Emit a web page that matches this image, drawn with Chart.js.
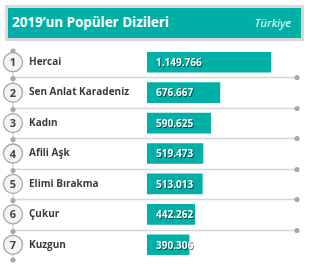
<!DOCTYPE html>
<html>
<head>
<meta charset="utf-8">
<script src="https://cdn.jsdelivr.net/npm/chart.js@4"></script>
<style>
  html, body { margin: 0; padding: 0; background: #fff; }
  body { width: 310px; height: 275px; position: relative; overflow: hidden; font-family: "Open Sans", sans-serif; }
  .header {
    position: absolute; left: 5px; top: 5px; width: 293px; height: 30px;
    border: 3px solid #d9d9d9; background: #00afa5; color: #fff;
  }
  .header .title { position: absolute; left: 4px; top: 5px; font-size: 13.4px; font-weight: 700; }
  .header .place { position: absolute; right: 10px; top: 7px; font-size: 11.5px; font-style: italic; }
  #chart { position: absolute; left: 0; top: 0; }
</style>
</head>
<body>
<div class="header">
  <span class="title">2019’un Popüler Dizileri</span>
  <span class="place">Türkiye</span>
</div>
<canvas id="chart" width="310" height="275"></canvas>
<script>
// 2019 most watched series, Turkey
const series = ['Hercai', 'Sen Anlat Karadeniz', 'Kadın', 'Afili Aşk', 'Elimi Bırakma', 'Çukur', 'Kuzgun'];
const viewers = [1149766, 676667, 590625, 519473, 513013, 442262, 390306];
const ranks = ['1', '2', '3', '4', '5', '6', '7'];

const teal = '#00afa5';
const lineGrey = '#d6d6d6';
const dotGrey = '#a9a9a9';

const fmt = (n) => String(n).replace(/\B(?=(\d{3})+(?!\d))/g, '.');

const rankList = {
    id: 'rankList',
    beforeDatasetsDraw(chart) {
        const { ctx, chartArea, scales: { y } } = chart;
        const half = (y.getPixelForValue(1) - y.getPixelForValue(0)) / 2;
        const lx = 13, rx = 297;
        ctx.save();
        // vertical spine
        ctx.strokeStyle = lineGrey;
        ctx.lineWidth = 1.5;
        ctx.beginPath();
        ctx.moveTo(lx, chartArea.top + 3);
        ctx.lineTo(lx, chartArea.bottom);
        ctx.stroke();
        // separators between rows
        for (let i = 0; i < series.length - 1; i++) {
            const yy = Math.round(y.getPixelForValue(i) + half) + 0.5;
            ctx.beginPath();
            ctx.moveTo(lx, yy);
            ctx.lineTo(rx, yy);
            ctx.stroke();
            ctx.fillStyle = dotGrey;
            ctx.beginPath(); ctx.arc(rx, yy, 2.6, 0, Math.PI * 2); ctx.fill();
            ctx.beginPath(); ctx.arc(lx, yy + 1, 2.6, 0, Math.PI * 2); ctx.fill();
        }
        ctx.fillStyle = dotGrey;
        ctx.beginPath(); ctx.arc(lx, chartArea.top + 4, 2.6, 0, Math.PI * 2); ctx.fill();
        ctx.beginPath(); ctx.arc(lx, chartArea.bottom, 2.6, 0, Math.PI * 2); ctx.fill();
        // rank circles
        ranks.forEach((r, i) => {
            const cy = y.getPixelForValue(i);
            ctx.beginPath();
            ctx.arc(lx, cy, 9.5, 0, Math.PI * 2);
            ctx.fillStyle = '#f4f4f4';
            ctx.fill();
            ctx.lineWidth = 1.3;
            ctx.strokeStyle = '#a8a8a8';
            ctx.stroke();
            ctx.fillStyle = '#444';
            ctx.font = '700 11px "Open Sans"';
            ctx.textAlign = 'center';
            ctx.textBaseline = 'middle';
            ctx.fillText(r, lx, cy + 1);
        });
        ctx.restore();
    },
    afterDatasetsDraw(chart) {
        const { ctx } = chart;
        const meta = chart.getDatasetMeta(0);
        ctx.save();
        ctx.font = '700 10px "Open Sans"';
        ctx.textAlign = 'left';
        ctx.textBaseline = 'middle';
        meta.data.forEach((bar, i) => {
            const x = bar.base + 9;
            ctx.fillStyle = 'rgba(0,0,0,0.55)';
            ctx.fillText(fmt(viewers[i]), x + 1, bar.y + 2);
            ctx.fillStyle = '#fff';
            ctx.fillText(fmt(viewers[i]), x, bar.y + 1);
        });
        ctx.restore();
    }
};

new Chart(document.getElementById('chart'), {
    type: 'bar',
    data: {
        labels: series,
        datasets: [{ data: viewers, backgroundColor: teal, barThickness: 20 }]
    },
    options: {
        indexAxis: 'y',
        responsive: false,
        animation: false,
        layout: { padding: { left: 29, right: 10, top: 47, bottom: 15 } },
        plugins: { legend: { display: false }, tooltip: { enabled: false } },
        scales: {
            x: { display: false, min: 0, max: 1420000 },
            y: {
                grid: { display: false },
                border: { display: false },
                afterFit(scale) { scale.width = 118; },
                ticks: {
                    crossAlign: 'far',
                    autoSkip: false,
                    color: '#3a3a3a',
                    font: { family: 'Open Sans', size: 10, weight: '700' }
                }
            }
        }
    },
    plugins: [rankList]
});
</script>
</body>
</html>
